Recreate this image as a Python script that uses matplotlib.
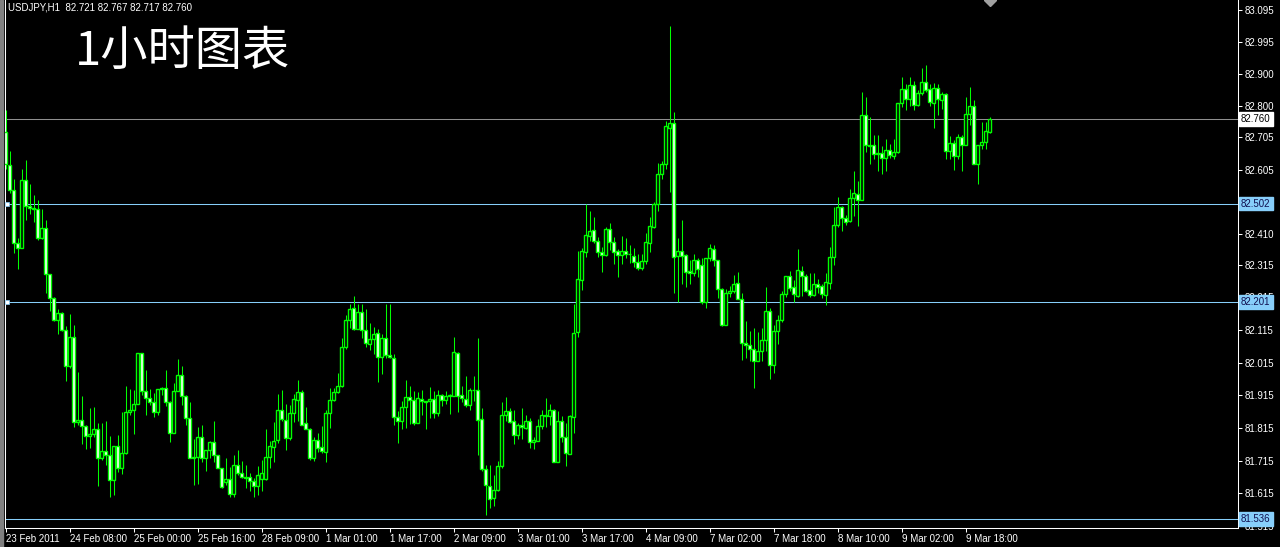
import numpy as np
import matplotlib.pyplot as plt
from matplotlib.transforms import blended_transform_factory
from matplotlib.patches import Rectangle

# USDJPY H1 candles
opens = [82.721, 82.621, 82.544, 82.380, 82.365, 82.574, 82.494, 82.488, 82.484, 82.398,
         82.427, 82.286, 82.212, 82.147, 82.166, 82.116, 82.004, 82.095, 81.833, 81.840,
         81.821, 81.791, 81.797, 81.812, 81.724, 81.745, 81.733, 81.655, 81.761, 81.694,
         81.738, 81.863, 81.869, 81.889, 82.046, 81.929, 81.907, 81.894, 81.864, 81.935,
         81.939, 81.894, 81.799, 81.929, 81.976, 81.912, 81.847, 81.722, 81.726, 81.789,
         81.722, 81.748, 81.771, 81.731, 81.692, 81.649, 81.659, 81.612, 81.702, 81.676,
         81.664, 81.664, 81.653, 81.638, 81.658, 81.658, 81.725, 81.756, 81.779, 81.869,
         81.841, 81.784, 81.862, 81.902, 81.926, 81.829, 81.813, 81.723, 81.779, 81.756,
         81.741, 81.862, 81.902, 81.925, 81.945, 82.064, 82.145, 82.181, 82.117, 82.169,
         82.114, 82.073, 82.086, 82.105, 82.032, 82.090, 82.040, 82.028, 81.850, 81.838,
         81.879, 81.911, 81.902, 81.831, 81.905, 81.897, 81.897, 81.905, 81.861, 81.915,
         81.902, 81.912, 81.912, 82.045, 81.915, 81.905, 81.884, 81.931, 81.931, 81.844,
         81.690, 81.639, 81.600, 81.626, 81.698, 81.856, 81.868, 81.837, 81.794, 81.823,
         81.815, 81.835, 81.772, 81.776, 81.820, 81.854, 81.851, 81.871, 81.710, 81.835,
         81.789, 81.735, 81.848, 82.110, 82.267, 82.355, 82.404, 82.422, 82.388, 82.354,
         82.344, 82.424, 82.383, 82.357, 82.345, 82.357, 82.347, 82.342, 82.324, 82.306,
         82.327, 82.380, 82.431, 82.501, 82.591, 82.622, 82.734, 82.750, 82.342, 82.357,
         82.344, 82.296, 82.288, 82.329, 82.313, 82.202, 82.335, 82.363, 82.329, 82.240,
         82.130, 82.229, 82.233, 82.260, 82.209, 82.076, 82.069, 82.058, 82.021, 82.050,
         82.083, 82.173, 82.007, 82.112, 82.147, 82.224, 82.281, 82.247, 82.219, 82.296,
         82.281, 82.236, 82.221, 82.257, 82.250, 82.222, 82.260, 82.337, 82.436, 82.490,
         82.458, 82.449, 82.519, 82.531, 82.513, 82.772, 82.680, 82.680, 82.654, 82.657,
         82.642, 82.665, 82.647, 82.659, 82.811, 82.854, 82.823, 82.864, 82.803, 82.839,
         82.874, 82.854, 82.810, 82.857, 82.818, 82.837, 82.662, 82.688, 82.649, 82.705,
         82.680, 82.775, 82.800, 82.624, 82.680, 82.690, 82.721]
highs = [82.787, 82.664, 82.577, 82.396, 82.608, 82.634, 82.562, 82.529, 82.514, 82.484,
         82.451, 82.286, 82.215, 82.178, 82.171, 82.126, 82.163, 82.130, 81.987, 81.912,
         81.825, 81.876, 81.878, 81.830, 81.830, 81.837, 81.792, 81.761, 81.794, 81.864,
         81.945, 81.935, 81.932, 82.046, 82.046, 81.994, 81.935, 81.922, 81.935, 81.942,
         81.994, 81.898, 81.953, 82.026, 82.004, 81.917, 81.896, 81.782, 81.817, 81.825,
         81.748, 81.776, 81.835, 81.733, 81.694, 81.724, 81.697, 81.733, 81.748, 81.714,
         81.702, 81.677, 81.662, 81.700, 81.718, 81.813, 81.774, 81.833, 81.920, 81.932,
         81.889, 81.885, 81.918, 81.962, 81.930, 81.879, 81.815, 81.789, 81.800, 81.820,
         81.871, 81.938, 81.938, 81.984, 82.092, 82.161, 82.194, 82.220, 82.196, 82.196,
         82.179, 82.135, 82.124, 82.117, 82.104, 82.196, 82.196, 82.042, 81.866, 81.897,
         81.961, 81.943, 81.928, 81.926, 81.930, 81.897, 81.940, 81.928, 81.932, 81.918,
         81.928, 81.918, 82.094, 82.048, 81.943, 81.974, 81.936, 81.974, 82.092, 81.877,
         81.703, 81.703, 81.672, 81.713, 81.895, 81.909, 81.876, 81.871, 81.830, 81.876,
         81.854, 81.845, 81.786, 81.843, 81.871, 81.907, 81.888, 81.874, 81.866, 81.851,
         81.830, 81.854, 82.194, 82.357, 82.366, 82.501, 82.478, 82.460, 82.400, 82.368,
         82.431, 82.441, 82.400, 82.363, 82.404, 82.396, 82.376, 82.366, 82.349, 82.349,
         82.411, 82.460, 82.506, 82.626, 82.632, 82.755, 83.044, 82.782, 82.398, 82.452,
         82.347, 82.329, 82.347, 82.335, 82.335, 82.335, 82.378, 82.376, 82.329, 82.245,
         82.240, 82.250, 82.284, 82.294, 82.229, 82.142, 82.112, 82.122, 82.110, 82.122,
         82.247, 82.181, 82.130, 82.161, 82.234, 82.281, 82.296, 82.267, 82.362, 82.311,
         82.286, 82.288, 82.288, 82.270, 82.255, 82.288, 82.368, 82.490, 82.521, 82.496,
         82.468, 82.547, 82.601, 82.572, 82.844, 82.828, 82.767, 82.711, 82.711, 82.677,
         82.700, 82.685, 82.700, 82.811, 82.888, 82.869, 82.888, 82.878, 82.851, 82.918,
         82.926, 82.869, 82.871, 82.869, 82.844, 82.839, 82.708, 82.695, 82.714, 82.711,
         82.828, 82.859, 82.818, 82.680, 82.752, 82.752, 82.767]
lows = [82.608, 82.533, 82.352, 82.301, 82.365, 82.451, 82.470, 82.447, 82.390, 82.393,
        82.229, 82.173, 82.144, 82.104, 82.111, 81.958, 81.999, 81.817, 81.825, 81.765,
        81.751, 81.753, 81.786, 81.638, 81.717, 81.702, 81.605, 81.610, 81.681, 81.673,
        81.735, 81.855, 81.796, 81.889, 81.917, 81.855, 81.886, 81.848, 81.855, 81.917,
        81.881, 81.771, 81.799, 81.927, 81.886, 81.825, 81.722, 81.642, 81.644, 81.712,
        81.683, 81.722, 81.712, 81.692, 81.632, 81.640, 81.605, 81.605, 81.671, 81.661,
        81.630, 81.623, 81.605, 81.610, 81.621, 81.656, 81.694, 81.711, 81.769, 81.836,
        81.748, 81.779, 81.834, 81.836, 81.823, 81.813, 81.718, 81.715, 81.741, 81.738,
        81.711, 81.815, 81.897, 81.923, 81.941, 82.058, 82.120, 82.114, 82.117, 82.092,
        82.063, 82.053, 82.042, 81.956, 81.981, 82.030, 82.030, 81.823, 81.769, 81.813,
        81.815, 81.827, 81.825, 81.829, 81.854, 81.813, 81.846, 81.846, 81.851, 81.882,
        81.889, 81.858, 81.912, 81.864, 81.895, 81.879, 81.871, 81.897, 81.733, 81.682,
        81.549, 81.571, 81.575, 81.621, 81.692, 81.835, 81.830, 81.766, 81.782, 81.782,
        81.813, 81.755, 81.751, 81.774, 81.813, 81.817, 81.825, 81.710, 81.710, 81.772,
        81.700, 81.735, 81.799, 82.093, 82.237, 82.339, 82.386, 82.380, 82.339, 82.294,
        82.342, 82.359, 82.316, 82.276, 82.316, 82.335, 82.319, 82.308, 82.298, 82.298,
        82.316, 82.355, 82.427, 82.480, 82.578, 82.608, 82.537, 82.229, 82.202, 82.255,
        82.247, 82.255, 82.281, 82.278, 82.196, 82.181, 82.327, 82.311, 82.212, 82.127,
        82.130, 82.216, 82.229, 82.209, 82.022, 82.030, 82.019, 81.938, 82.019, 82.021,
        82.050, 81.966, 81.984, 82.071, 82.140, 82.215, 82.234, 82.202, 82.216, 82.219,
        82.232, 82.216, 82.219, 82.229, 82.214, 82.193, 82.240, 82.314, 82.429, 82.417,
        82.437, 82.447, 82.465, 82.434, 82.513, 82.659, 82.624, 82.639, 82.601, 82.593,
        82.601, 82.642, 82.639, 82.656, 82.798, 82.789, 82.800, 82.789, 82.800, 82.833,
        82.844, 82.800, 82.734, 82.772, 82.792, 82.639, 82.639, 82.605, 82.639, 82.603,
        82.680, 82.741, 82.622, 82.562, 82.670, 82.670, 82.717]
closes = [82.623, 82.544, 82.380, 82.365, 82.574, 82.494, 82.488, 82.484, 82.398, 82.427,
          82.286, 82.212, 82.147, 82.166, 82.116, 82.004, 82.095, 81.833, 81.840, 81.821,
          81.791, 81.797, 81.812, 81.724, 81.745, 81.733, 81.655, 81.761, 81.694, 81.738,
          81.863, 81.869, 81.889, 82.046, 81.929, 81.907, 81.894, 81.864, 81.935, 81.939,
          81.894, 81.799, 81.929, 81.976, 81.912, 81.847, 81.722, 81.726, 81.789, 81.722,
          81.748, 81.771, 81.731, 81.692, 81.634, 81.659, 81.612, 81.702, 81.676, 81.664,
          81.661, 81.653, 81.638, 81.672, 81.676, 81.725, 81.759, 81.776, 81.871, 81.844,
          81.784, 81.862, 81.905, 81.924, 81.825, 81.813, 81.723, 81.779, 81.754, 81.746,
          81.862, 81.902, 81.925, 81.945, 82.064, 82.145, 82.179, 82.117, 82.169, 82.114,
          82.076, 82.087, 82.102, 82.032, 82.090, 82.040, 82.032, 81.850, 81.838, 81.879,
          81.909, 81.902, 81.831, 81.907, 81.897, 81.894, 81.905, 81.861, 81.915, 81.902,
          81.912, 81.915, 82.048, 81.912, 81.907, 81.884, 81.931, 81.931, 81.841, 81.690,
          81.641, 81.598, 81.626, 81.698, 81.856, 81.868, 81.833, 81.794, 81.823, 81.817,
          81.835, 81.772, 81.777, 81.820, 81.854, 81.851, 81.871, 81.710, 81.835, 81.786,
          81.738, 81.851, 82.107, 82.270, 82.357, 82.406, 82.419, 82.386, 82.355, 82.344,
          82.424, 82.383, 82.355, 82.345, 82.357, 82.347, 82.347, 82.322, 82.306, 82.327,
          82.385, 82.434, 82.501, 82.591, 82.622, 82.738, 82.750, 82.339, 82.357, 82.342,
          82.294, 82.288, 82.329, 82.301, 82.202, 82.335, 82.366, 82.329, 82.240, 82.130,
          82.229, 82.235, 82.257, 82.209, 82.076, 82.069, 82.058, 82.021, 82.050, 82.083,
          82.173, 82.007, 82.112, 82.147, 82.224, 82.281, 82.245, 82.224, 82.298, 82.281,
          82.234, 82.221, 82.257, 82.247, 82.224, 82.263, 82.339, 82.437, 82.490, 82.458,
          82.447, 82.519, 82.534, 82.513, 82.772, 82.680, 82.677, 82.654, 82.657, 82.642,
          82.665, 82.652, 82.661, 82.811, 82.854, 82.823, 82.864, 82.803, 82.839, 82.874,
          82.851, 82.813, 82.857, 82.823, 82.837, 82.662, 82.688, 82.649, 82.705, 82.680,
          82.775, 82.800, 82.624, 82.680, 82.690, 82.724, 82.760]

x_labels = ["23 Feb 2011", "24 Feb 08:00", "25 Feb 00:00", "25 Feb 16:00", "28 Feb 09:00",
            "1 Mar 01:00", "1 Mar 17:00", "2 Mar 09:00", "3 Mar 01:00", "3 Mar 17:00",
            "4 Mar 09:00", "7 Mar 02:00", "7 Mar 18:00", "8 Mar 10:00", "9 Mar 02:00",
            "9 Mar 18:00"]
y_ticks = [83.095, 82.995, 82.900, 82.800, 82.705, 82.605, 82.410, 82.315, 82.215,
           82.115, 82.015, 81.915, 81.815, 81.715, 81.615, 81.515]
bid = 82.760
levels = [82.502, 82.201, 81.536]

GREEN = '#00ff00'
BLUE = '#87cefa'
FONT = 'Liberation Sans'

o = np.array(opens); h = np.array(highs); l = np.array(lows); c = np.array(closes)
idx = np.arange(len(o))

fig = plt.figure(figsize=(12.8, 5.47), dpi=100, facecolor='black')
ax = fig.add_axes([5/1280, 19/547, 1233/1280, 528/547])
ax.set_facecolor('black')

# wicks + bodies (bear = white body, bull = black body, lime outline)
ax.vlines(idx, l, h, color=GREEN, lw=0.75, zorder=2)
body_h = np.maximum(np.abs(c - o), 0.0012)
body_b = np.minimum(o, c)
fills = ['white' if cc < oo else 'black' for oo, cc in zip(o, c)]
ax.bar(idx, body_h, bottom=body_b, width=0.55, color=fills, edgecolor=GREEN,
       linewidth=1.0, zorder=3)

# price lines
ax.axhline(bid, color='#8f8f8f', lw=0.75, zorder=1)
for lv in levels:
    ax.axhline(lv, color=BLUE, lw=0.75, zorder=1)
for lv in levels[:2]:
    ax.plot(0.4, lv, marker='s', ms=3.5, mfc='white', mec=BLUE, mew=0.5,
            clip_on=False, zorder=5)

ax.set_xlim(-0.125, 308.125)
ax.set_ylim(81.509, 83.125)

# axes look
for s in ['left', 'bottom', 'right']:
    ax.spines[s].set_color('white')
    ax.spines[s].set_linewidth(0.75)
ax.spines['top'].set_visible(False)

ax.set_xticks(np.arange(0, 241, 16))
ax.set_xticklabels(x_labels, fontsize=7, family=FONT, color='white')
for t in ax.get_xticklabels():
    t.set_ha('left')
ax.tick_params(axis='x', colors='white', length=3, width=0.75, pad=1)

ax.yaxis.tick_right()
ax.set_yticks(y_ticks)
ax.set_yticklabels([f'{v:.3f}' for v in y_ticks], fontsize=7, family=FONT, color='white')
ax.tick_params(axis='y', colors='white', length=3, width=0.75, pad=1.5)

# price boxes on the right scale
tr = blended_transform_factory(ax.transAxes, ax.transData)
ax.text(1.0025, bid, f'{bid:.3f}', transform=tr, va='center', ha='left', fontsize=7,
        family=FONT, color='black', zorder=10,
        bbox=dict(boxstyle='square,pad=0.2', fc='white', ec='white'))
for lv in levels:
    ax.text(1.0025, lv, f'{lv:.3f}', transform=tr, va='center', ha='left', fontsize=7,
            family=FONT, color='#101050', zorder=10,
            bbox=dict(boxstyle='square,pad=0.2', fc=BLUE, ec=BLUE))

# shift marker at top
ax.plot(246, 83.125, marker='D', ms=6, color='#a0a0a0', clip_on=False, zorder=6)

# left gray strip
fig.patches.append(Rectangle((0, 0), 2.5/1280, 1, transform=fig.transFigure,
                             color='#808080'))

fig.text(8/1280, 1 - 7/547, 'USDJPY,H1  82.721 82.767 82.717 82.760', color='white',
         fontsize=7, family=FONT, va='center', ha='left')
fig.text(75/1280, 1 - 52/547, '1小时图表', color='white', fontsize=34,
         family=['Noto Sans CJK SC', 'DejaVu Sans'], va='center', ha='left')

fig.savefig('out.png', dpi=100, facecolor='black')
